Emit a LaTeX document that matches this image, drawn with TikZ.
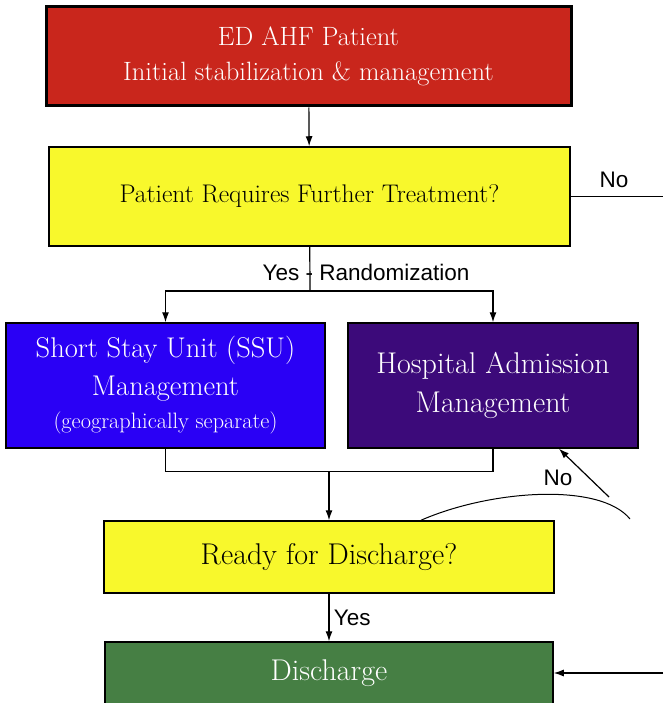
\documentclass[tikz,border=0pt]{standalone}
\usepackage{fontspec}
\newfontfamily\labelfont{Liberation Sans}
\usetikzlibrary{arrows.meta,positioning}

\definecolor{edred}{RGB}{201,38,28}
\definecolor{askyellow}{RGB}{248,248,44}
\definecolor{ssublue}{RGB}{42,0,245}
\definecolor{admpurple}{RGB}{60,10,122}
\definecolor{dcgreen}{RGB}{70,127,68}

\begin{document}
\begin{tikzpicture}[x=1pt,y=-1pt,>={Latex[length=10pt,width=7pt]},line width=1.2pt,
   box/.style={draw,line width=1.5pt,align=center,inner sep=0pt,
     font=\fontsize{25.5}{35}\selectfont},
   big/.style={font=\fontsize{30}{39}\selectfont},
   lbl/.style={font=\labelfont\fontsize{22.5}{24}\selectfont}]
  \useasboundingbox (0,0) rectangle (663,703);
  \node[box,fill=edred,text=white,line width=3pt,minimum width=525pt,minimum height=99pt,
    font=\fontsize{26.5}{35}\selectfont]
    (ed) at (308.5,56.5) {ED AHF Patient\\Initial stabilization \& management};
  \node[box,fill=askyellow,minimum width=521pt,minimum height=99pt]
    (treat) at (309.5,196.5) {Patient Requires Further Treatment?};
  \node[box,big,fill=ssublue,text=white,minimum width=319pt,minimum height=125pt,
    font=\fontsize{28.5}{38}\selectfont]
    (ssu) at (165.5,385.5) {Short Stay Unit (SSU)\\Management\\[-5pt]
      {\fontsize{22.3}{26}\selectfont(geographically separate)}};
  \node[box,big,fill=admpurple,text=white,minimum width=290pt,minimum height=125pt]
    (hosp) at (493,385.5) {Hospital Admission\\Management};
  \node[box,big,fill=askyellow,minimum width=450pt,minimum height=72pt]
    (ready) at (329,557) {Ready for Discharge?};
  \node[box,big,fill=dcgreen,text=white,minimum width=448pt,minimum height=62pt]
    (disc) at (329,673) {Discharge};
  \coordinate (split) at (310,291);
  \coordinate (merge) at (329,471);
  \coordinate (noout) at (663,196.5);
  \coordinate (noin) at (663,673);
  \coordinate (hook) at (630,519);
  \coordinate (back) at (609,497);
  % top part
  \draw[->] (ed) -- (treat);
  \draw (treat) -- (noout);
  \node[lbl] (no1) at (614,180) {No};
  \draw (treat) -- (split);
  \node[lbl] (yr) at (366,272) {Yes - Randomization};
  \draw[->] (split) -| (ssu);
  \draw[->] (split) -| (hosp);
  % bottom part
  \draw (ssu.south) -- ++(0,23) -| (hosp.south);
  \draw[->] (merge) -- (ready);
  \draw[->] (ready) -- (disc) node[lbl,midway,right=1pt]{Yes};
  \draw[line width=1pt] ([xshift=92pt]ready.north) .. controls (490,490) and (600,482) .. (hook);
  \draw[->] (back) -- ([xshift=66pt]hosp.south);
  \node[lbl] (no2) at (558,478) {No};
  \draw[->] (noin) -- (disc);
\end{tikzpicture}
\end{document}
